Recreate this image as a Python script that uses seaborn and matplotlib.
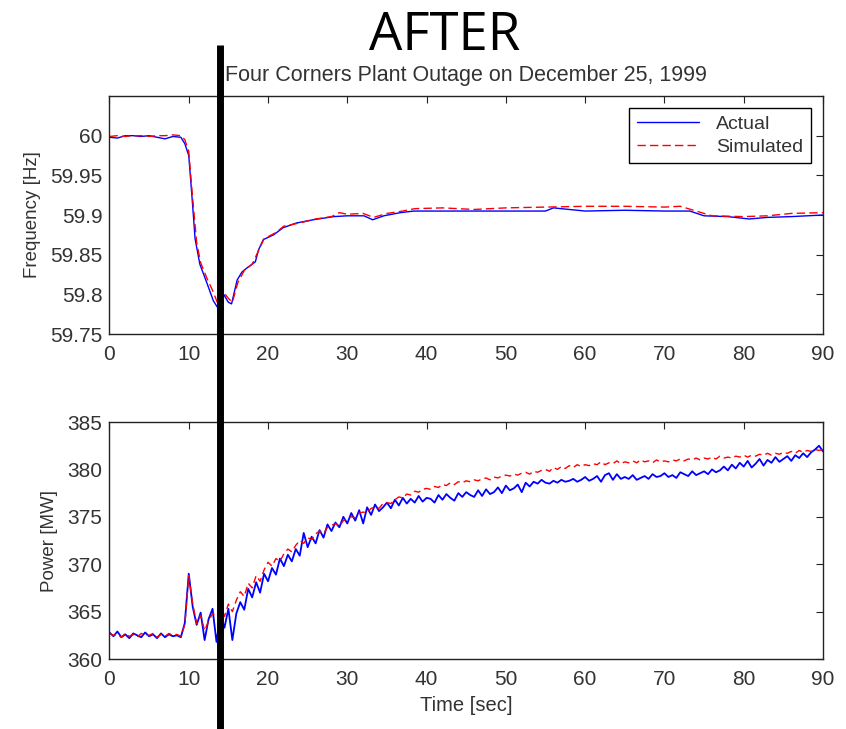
import numpy as np
import pandas as pd
import matplotlib
matplotlib.use("Agg")
import matplotlib.pyplot as plt
import seaborn as sns
from matplotlib.lines import Line2D

# Frequency traces (time [s], value [Hz])
freq_act_t = [0, 1, 2, 3, 4, 5, 6, 7, 8, 9, 9.5, 10, 10.4, 10.8, 11.4, 12.3, 13.1, 13.6,
              14.4, 15, 15.4, 16.1, 16.7, 17.3, 18.4, 18.8, 19.4, 20.7, 21.9, 23.6, 25.7,
              28.3, 30, 32.1, 33.2, 34.6, 36.7, 38.4, 45, 50, 55, 56, 60, 65, 70, 73.2,
              75, 78, 80.7, 83, 86, 90]
freq_act = [59.998, 59.997, 60.0, 60.0, 59.999, 60.0, 59.998, 59.996, 59.999, 59.998,
            59.99, 59.975, 59.924, 59.87, 59.838, 59.814, 59.792, 59.784, 59.80, 59.79,
            59.788, 59.818, 59.828, 59.833, 59.841, 59.856, 59.869, 59.875, 59.884,
            59.89, 59.894, 59.898, 59.899, 59.899, 59.894, 59.899, 59.903, 59.905,
            59.905, 59.905, 59.905, 59.909, 59.905, 59.906, 59.905, 59.905, 59.899,
            59.898, 59.895, 59.897, 59.898, 59.900]

freq_sim_t = [0, 1, 2, 3, 4, 5, 6, 7, 8, 9, 9.5, 10, 10.5, 11, 11.5, 12.3, 13, 13.6, 14.2,
              15, 15.5, 16.2, 17, 18, 18.8, 19.5, 21, 22, 24, 26, 28, 29, 30, 32, 33.3,
              35, 37, 38.5, 42, 46, 50, 55, 60, 65, 70, 72, 74, 76, 80, 83, 86, 90]
freq_sim = [59.999, 60.0, 59.999, 60.0, 60.0, 59.999, 60.0, 60.0, 60.001, 60.0, 59.995,
            59.98, 59.92, 59.865, 59.84, 59.82, 59.805, 59.79, 59.805, 59.795, 59.79,
            59.815, 59.83, 59.838, 59.855, 59.87, 59.878, 59.886, 59.89, 59.895, 59.898,
            59.903, 59.901, 59.902, 59.897, 59.902, 59.905, 59.908, 59.909, 59.907,
            59.909, 59.91, 59.911, 59.911, 59.91, 59.911, 59.905, 59.899, 59.898, 59.899,
            59.902, 59.903]

# Power traces, sampled every 0.5 s from 0 to 90 s
power_t = [i * 0.5 for i in range(181)]
power_act = [
    362.8, 362.4, 362.9, 362.3, 362.6, 362.2, 362.7, 362.5, 362.3, 362.8,
    362.4, 362.6, 362.2, 362.7, 362.3, 362.6, 362.4, 362.5, 362.3, 363.8,
    369.0, 365.5, 363.6, 364.9, 362.0, 364.2, 365.3, 361.8, 364.6, 363.3,
    365.3, 362.0, 364.8, 366.0, 365.2, 367.4, 366.5, 368.1, 367.0, 369.0,
    368.2, 369.6, 368.9, 370.6, 369.8, 371.0, 370.3, 371.6, 370.9, 373.3,
    371.8, 372.9, 372.2, 373.6, 372.8, 374.2, 373.5, 374.4, 373.9, 375.0,
    374.3, 375.4, 374.6, 375.7, 374.3, 376.0, 375.2, 376.3, 375.6, 376.0,
    376.5, 375.9, 376.8, 376.2, 377.0, 376.4, 376.9, 376.5, 377.2, 376.6,
    377.0, 376.9, 376.5, 377.3, 376.8, 377.4, 377.0, 376.7, 377.5, 377.1,
    377.6, 377.3, 377.1, 377.8, 377.2, 377.9, 377.4, 377.6, 378.1, 377.5,
    378.3, 377.8, 378.0, 378.4, 377.6, 378.6, 378.2, 378.7, 378.5, 378.9,
    378.6, 378.5, 378.8, 378.6, 378.9, 378.7, 378.8, 379.0, 378.7, 378.9,
    379.2, 378.8, 379.0, 379.3, 378.7, 379.4, 379.6, 378.9, 379.5, 379.0,
    379.2, 379.0, 379.4, 378.9, 379.1, 379.3, 379.0, 379.5, 379.2, 379.3,
    379.6, 379.2, 379.4, 379.1, 379.7, 379.5, 379.3, 379.8, 379.4, 379.6,
    379.8, 379.5, 380.0, 379.7, 379.9, 380.3, 379.9, 380.5, 380.1, 380.7,
    380.3, 380.9, 380.2, 380.6, 381.1, 380.4, 381.0, 380.7, 381.3, 380.8,
    381.1, 381.4, 380.9, 381.5, 381.2, 381.7, 381.3, 381.8, 382.1, 382.5,
    381.9]
power_sim = [
    362.7, 362.5, 362.6, 362.3, 362.7, 362.4, 362.6, 362.3, 362.7, 362.5,
    362.5, 362.7, 362.3, 362.6, 362.4, 362.7, 362.5, 362.6, 362.4, 363.6,
    368.8, 365.8, 363.7, 364.6, 363.0, 364.0, 364.8, 364.6, 365.3, 364.5,
    365.8, 365.0, 366.2, 367.1, 366.6, 368.0, 367.5, 368.8, 368.2, 369.4,
    370.2, 369.8, 370.6, 370.3, 371.1, 371.6, 371.3, 372.0, 372.5, 372.2,
    372.8, 372.6, 373.2, 373.5, 373.2, 373.9, 374.1, 374.3, 374.0, 374.6,
    374.8, 375.0, 374.9, 375.4, 375.5, 375.4, 375.9, 376.0, 375.9, 376.4,
    376.5, 376.4, 376.8, 377.1, 377.0, 377.4, 377.3, 377.7, 377.6, 377.9,
    378.0, 377.9, 378.2, 378.1, 378.4, 378.3, 378.6, 378.4, 378.7, 378.6,
    378.8, 378.7, 378.9, 378.8, 379.0, 379.1, 378.9, 379.2, 379.1, 379.3,
    379.4, 379.3, 379.5, 379.4, 379.6, 379.7, 379.5, 379.8, 379.7, 379.9,
    380.0, 379.8, 380.2, 380.0, 380.3, 380.1, 380.4, 380.2, 380.5, 380.3,
    380.5, 380.4, 380.6, 380.5, 380.8, 380.5, 380.7, 380.6, 380.9, 380.6,
    380.8, 380.7, 380.9, 380.7, 381.0, 380.8, 380.9, 380.7, 381.0, 380.8,
    380.9, 380.8, 381.0, 380.9, 381.1, 380.9, 381.1, 381.0, 381.2, 381.0,
    381.2, 381.1, 381.3, 381.1, 381.4, 381.2, 381.3, 381.2, 381.4, 381.3,
    381.5, 381.3, 381.5, 381.4, 381.6, 381.5, 381.7, 381.5, 381.7, 381.6,
    381.8, 381.7, 381.9, 381.7, 382.0, 381.8, 382.0, 381.9, 382.1, 382.0,
    382.1]

marker_time = 13.9  # thick black cursor line

x_ticks = [0, 10, 20, 30, 40, 50, 60, 70, 80, 90]
freq_ticks = [59.75, 59.8, 59.85, 59.9, 59.95, 60]
freq_ticklabels = ["59.75", "59.8", "59.85", "59.9", "59.95", "60"]
power_ticks = [360, 365, 370, 375, 380, 385]

sns.set_style("white")
plt.rcParams['font.family'] = ['Liberation Sans', 'DejaVu Sans']

fig = plt.figure(figsize=(8.46, 7.29), dpi=100)
ax1 = fig.add_axes([0.1294, 0.5418, 0.8434, 0.3265])
ax2 = fig.add_axes([0.1294, 0.0960, 0.8434, 0.3251])

text_col = '#333333'

sns.lineplot(x=freq_act_t, y=freq_act, ax=ax1, color='#0000ff', linewidth=1.0,
             label='Actual', estimator=None, sort=False)
sns.lineplot(x=freq_sim_t, y=freq_sim, ax=ax1, color='#ff0000', linewidth=1.0,
             label='Simulated', estimator=None, sort=False)
ax1.lines[1].set_dashes([6, 3])

sns.lineplot(x=power_t, y=power_act, ax=ax2, color='#0000ff', linewidth=1.3,
             estimator=None, sort=False)
sns.lineplot(x=power_t, y=power_sim, ax=ax2, color='#ff0000', linewidth=1.0,
             estimator=None, sort=False)
ax2.lines[1].set_dashes([5, 3])

ax1.set_xlim(0, 90)
ax1.set_ylim(59.75, 60.05)
ax1.set_yticks(freq_ticks)
ax1.set_yticklabels(freq_ticklabels)
ax2.set_xlim(0, 90)
ax2.set_ylim(360, 385)
ax2.set_yticks(power_ticks)

for ax in (ax1, ax2):
    ax.set_xticks(x_ticks)
    ax.tick_params(direction='in', length=5, width=0.8, top=True, right=True,
                   labelsize=15, labelcolor=text_col, color='#222222')
    ax.tick_params(axis='x', pad=8)
    ax.tick_params(axis='y', pad=5)
    for s in ax.spines.values():
        s.set_color('#222222')
        s.set_linewidth(1.0)
    ax.grid(False)

ax1.set_ylabel('Frequency [Hz]', fontsize=13.5, color=text_col, labelpad=7)
ax2.set_ylabel('Power [MW]', fontsize=13.5, color=text_col, labelpad=7)
ax2.set_xlabel('Time [sec]', fontsize=14.5, color=text_col, labelpad=5)
ax1.set_xlabel('')
ax1.set_title('Four Corners Plant Outage on December 25, 1999', fontsize=15.5,
              color=text_col, pad=11)

leg = ax1.legend(loc='upper right', fontsize=14, frameon=True, fancybox=False,
                 edgecolor='black', framealpha=1, handlelength=3.2,
                 borderpad=0.4, labelspacing=0.25, borderaxespad=0.6,
                 handletextpad=0.9)
leg.get_frame().set_linewidth(1.0)
for t in leg.get_texts():
    t.set_color(text_col)
leg.get_lines()[1].set_dashes([6, 3])

fig.text(0.525, 0.950, 'AFTER', fontsize=38, ha='center', va='center',
         family=['Open Sans', 'DejaVu Sans'], color='black')

# thick vertical cursor spanning both panels
fig.canvas.draw()
xpix = ax1.transData.transform((marker_time, 60.0))[0]
xfig = fig.transFigure.inverted().transform((xpix, 0))[0]
fig.add_artist(Line2D([xfig, xfig], [0.0, 1 - 45 / 729], transform=fig.transFigure,
                      color='black', linewidth=5.0, solid_capstyle='butt'))

plt.savefig('out.png', dpi=100)
plt.close()
